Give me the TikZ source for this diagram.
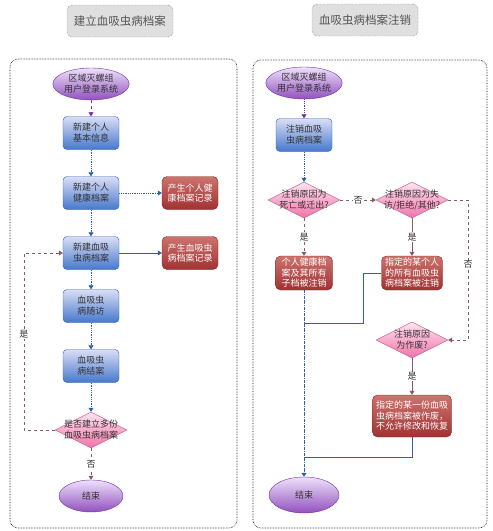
\documentclass[tikz,border=0pt]{standalone}
\usepackage{fontspec}
\setmainfont{Noto Sans CJK SC}
\usepackage{tikz}
\usetikzlibrary{arrows.meta, shapes.geometric, calc}
\usepackage{xcolor}
\definecolor{flowblue}{RGB}{45,95,175}
\definecolor{boxtop}{RGB}{218,222,245}
\definecolor{boxbot}{RGB}{70,120,205}
\definecolor{redtop}{RGB}{205,115,110}
\definecolor{redbot}{RGB}{160,50,50}
\definecolor{redline}{RGB}{125,40,40}
\definecolor{pinktop}{RGB}{255,228,240}
\definecolor{pinkbot}{RGB}{240,115,170}
\definecolor{pinkline}{RGB}{190,90,135}
\definecolor{purtop}{RGB}{238,225,250}
\definecolor{purbot}{RGB}{145,80,190}
\definecolor{purline}{RGB}{110,50,160}
\definecolor{brownline}{RGB}{140,90,95}
\definecolor{titlegray}{RGB}{85,85,85}

\begin{document}
\begin{tikzpicture}[x=1pt, y=-1pt,
  every node/.style={font=\fontsize{9}{11}\selectfont, align=center, text=black!80},
  stepbox/.style={rectangle, rounded corners=4pt, draw=flowblue, top color=boxtop, bottom color=boxbot, minimum width=56pt, minimum height=33pt, inner sep=1pt},
  recbox/.style={rectangle, rounded corners=5pt, draw=redline, top color=redtop, bottom color=redbot, text=white, inner sep=1pt, minimum width=56pt, minimum height=33pt, font=\fontsize{9}{10.5}\selectfont},
  decision/.style={diamond, draw=pinkline, top color=pinktop, bottom color=pinkbot, minimum width=72pt, minimum height=36pt, inner sep=0pt},
  terminal/.style={ellipse, draw=purline, top color=purtop, bottom color=purbot, minimum width=64pt, minimum height=32pt, inner sep=0pt},
  titlebox/.style={rectangle, rounded corners=5pt, draw=titlegray, densely dotted, fill=gray!25, text=titlegray, font=\fontsize{11.5}{13}\selectfont, minimum width=106pt, minimum height=32pt},
  panel/.style={draw=black, densely dotted, semithick, rounded corners=8pt},
  flow/.style={draw=flowblue, densely dotted, thick, -{Triangle[length=4pt,width=5pt]}},
  bluelink/.style={draw=flowblue, semithick},
  purflow/.style={draw=purline, densely dotted, thick, -{Triangle[length=4pt,width=5pt]}},
  decline/.style={draw=brownline, dashed, semithick, -{Triangle[length=4pt,width=5pt]}},
  yesno/.style={fill=white, inner sep=1pt}]
  \useasboundingbox (0,0) rectangle (493,531);
  % titles and panels
  \node[titlebox] (titleL) at (120,21) {建立血吸虫病档案};
  \node[titlebox] (titleR) at (365,20) {血吸虫病档案注销};
  \draw[panel] (10,59) rectangle (237,528);
  \draw[panel] (253,60) rectangle (487,528);
  % left: new file
  \node[terminal] (loginL) at (91,84) {区域灭螺组\\用户登录系统};
  \node[stepbox] (infoL) at (91,133) {新建个人\\基本信息};
  \node[stepbox] (healthL) at (91,193) {新建个人\\健康档案};
  \node[recbox] (recHealth) at (190,193) {产生个人健\\康档案记录};
  \node[stepbox] (fileL) at (91,253) {新建血吸\\虫病档案};
  \node[recbox] (recFile) at (190,253) {产生血吸虫\\病档案记录};
  \node[stepbox] (visitL) at (91,306) {血吸虫\\病随访};
  \node[stepbox] (closeL) at (91,366) {血吸虫\\病结案};
  \node[decision, label={center:{是否建立多份\\血吸虫病档案}}] (moreL) at (91,430) {};
  \node[terminal] (endL) at (91,496) {结束};
  \draw[purflow, dashed] (loginL) -- (infoL);
  \draw[flow] (infoL) -- (healthL);
  \draw[flow] (healthL) -- (recHealth);
  \draw[flow] (healthL) -- (fileL);
  \draw[bluelink, -{Triangle[length=4pt,width=5pt]}] (fileL) -- (recFile);
  \draw[flow] (fileL) -- (visitL);
  \draw[flow] (visitL) -- (closeL);
  \draw[flow] (closeL) -- (moreL);
  \draw[decline] (moreL) -- (endL) node[midway, yesno] {否};
  \draw[decline] (moreL.west) -- (24,430) |- (fileL.west) node[pos=0.27, yesno] {是};
  % right: cancel file
  \node[terminal] (loginR) at (304,83) {区域灭螺组\\用户登录系统};
  \node[stepbox] (cancelR) at (304,135) {注销血吸\\虫病档案};
  \node[decision, label={center:{注销原因为\\死亡或迁出?}}] (deathR) at (304,200) {};
  \node[decision, label={center:{注销原因为失\\访/拒绝/其他?}}] (lostR) at (412,200) {};
  \node[recbox, minimum width=57pt, minimum height=34pt] (delHealth) at (304,273) {个人健康档\\案及其所有\\子档被注销};
  \node[recbox, minimum width=61pt, minimum height=34pt] (delFiles) at (412,273) {指定的某个人\\的所有血吸虫\\病档案被注销};
  \node[decision, label={center:{注销原因\\为作废?}}] (voidR) at (412,340) {};
  \node[recbox, minimum width=79pt, minimum height=42pt] (voidRec) at (412,416) {指定的某一份血吸\\虫病档案被作废，\\不允许修改和恢复};
  \node[terminal, minimum width=70pt, minimum height=36pt] (endR) at (304,495) {结束};
  \coordinate (joinA) at (304,323);
  \coordinate (joinB) at (304,457);
  \draw[purflow] (loginR) -- (cancelR);
  \draw[flow] (cancelR) -- (deathR);
  \draw[decline] (deathR) -- (lostR) node[midway, yesno] {否};
  \draw[decline] (deathR) -- (delHealth) node[midway, yesno] {是};
  \draw[decline, solid] (lostR) -- (delFiles) node[midway, yesno] {是};
  \draw[decline] (lostR.east) -- (468,200) |- (voidR.east) node[pos=0.23, yesno] {否};
  \draw[decline, solid] (voidR) -- (voidRec) node[midway, yesno] {是};
  \draw[bluelink, densely dash dot, -{Triangle[length=4pt,width=5pt]}] (delHealth) -- (endR);
  \draw[bluelink] (delFiles.west) -- (363,273) |- (joinA);
  \draw[bluelink] (voidRec.south) |- (joinB);
\end{tikzpicture}
\end{document}
